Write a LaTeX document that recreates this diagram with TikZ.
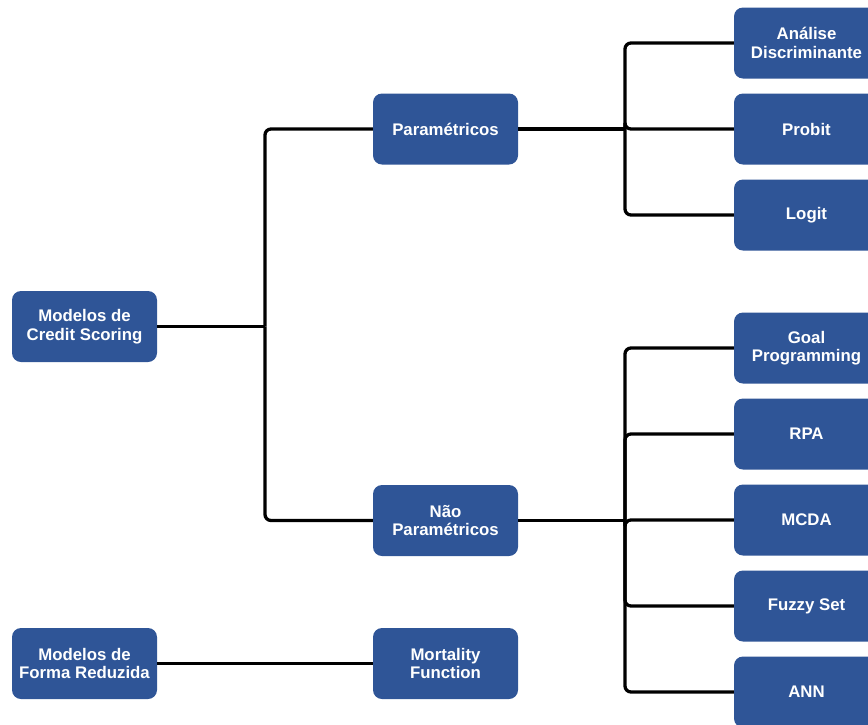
\documentclass[tikz,border=0pt]{standalone}
\usepackage{fontspec}
\setmainfont{Liberation Sans}
\usepackage{tikz}

\definecolor{boxblue}{RGB}{47,85,151}

\begin{document}
\begin{tikzpicture}[x=1pt,y=-1pt,
        model/.style={draw=none,fill=boxblue,rounded corners=9pt,
            minimum width=145pt,minimum height=71pt,inner sep=0pt,
            align=center,text=white,font=\fontsize{16.8}{18.5}\selectfont\bfseries},
        link/.style={line width=3.3pt,rounded corners=6pt}]
        \useasboundingbox (0,0) rectangle (868,724);

        \node [model] (credit) at (84.5,326.5) {Modelos de\\Credit Scoring};
        \node [model] (param) at (445.5,129) {Paramétricos};
        \node [model] (naoparam) at (445.5,520.5) {Não\\Paramétricos};
        \node [model] (reduz) at (84.5,663.5) {Modelos de\\Forma Reduzida};
        \node [model] (mortal) at (445.5,663.5) {Mortality\\Function};

        \node [model] (analise) at (806.5,43) {Análise\\Discriminante};
        \node [model] (probit) at (806.5,129) {Probit};
        \node [model] (logit) at (806.5,215) {Logit};

        \node [model] (goal) at (806.5,348) {Goal\\Programming};
        \node [model] (rpa) at (806.5,434) {RPA};
        \node [model] (mcda) at (806.5,520) {MCDA};
        \node [model] (fuzzy) at (806.5,606) {Fuzzy Set};
        \node [model] (ann) at (806.5,692) {ANN};

        \coordinate (j1) at (265,326.5);
        \coordinate (j2) at (625,129);
        \coordinate (j3) at (625,520.5);

        \draw [link] (credit.east) -- (j1);
        \draw [link] (j1) |- (param.west);
        \draw [link] (j1) |- (naoparam.west);

        \draw [link] (param.east) -- (j2);
        \foreach \n in {analise,probit,logit}
            \draw [link] (j2) |- (\n.west);

        \draw [link] (naoparam.east) -- (j3);
        \foreach \n in {goal,rpa,mcda,fuzzy,ann}
            \draw [link] (j3) |- (\n.west);

        \draw [link] (reduz.east) -- (mortal.west);
    \end{tikzpicture}
\end{document}
